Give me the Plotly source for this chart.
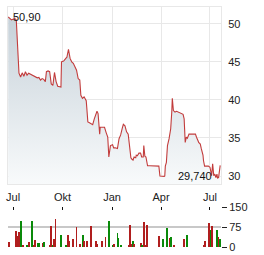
import plotly.graph_objects as go

price_dates = [
    "2023-06-22", "2023-06-28", "2023-07-04", "2023-07-07", "2023-07-12", "2023-07-15",
    "2023-07-18", "2023-07-21", "2023-07-24", "2023-07-27", "2023-07-30", "2023-08-02",
    "2023-08-05", "2023-08-09", "2023-08-12", "2023-08-15", "2023-08-18", "2023-08-21",
    "2023-08-24", "2023-08-27", "2023-08-30", "2023-09-01", "2023-09-04", "2023-09-07",
    "2023-09-10", "2023-09-13", "2023-09-16", "2023-09-19", "2023-09-22", "2023-09-25",
    "2023-09-28", "2023-09-29", "2023-10-03", "2023-10-07", "2023-10-09", "2023-10-12",
    "2023-10-15", "2023-10-18", "2023-10-21", "2023-10-24", "2023-10-27", "2023-10-30",
    "2023-11-02", "2023-11-04", "2023-11-07", "2023-11-10", "2023-11-14", "2023-11-15",
    "2023-11-17", "2023-11-20", "2023-11-23", "2023-11-26", "2023-11-29", "2023-12-03",
    "2023-12-04", "2023-12-06", "2023-12-07", "2023-12-09", "2023-12-10", "2023-12-14",
    "2023-12-18", "2023-12-21", "2023-12-24", "2023-12-26", "2023-12-29", "2024-01-02",
    "2024-01-04", "2024-01-07", "2024-01-11", "2024-01-14", "2024-01-17", "2024-01-20",
    "2024-01-22", "2024-01-25", "2024-01-28", "2024-01-31", "2024-02-03", "2024-02-05",
    "2024-02-07", "2024-02-09", "2024-02-11", "2024-02-14", "2024-02-15", "2024-02-17",
    "2024-02-20", "2024-02-23", "2024-02-25", "2024-02-28", "2024-02-29", "2024-03-02",
    "2024-03-04", "2024-03-07", "2024-03-11", "2024-03-20", "2024-03-27", "2024-03-28",
    "2024-03-30", "2024-04-02", "2024-04-07", "2024-04-08", "2024-04-09", "2024-04-11",
    "2024-04-13", "2024-04-16", "2024-04-17", "2024-04-19", "2024-04-21", "2024-04-22",
    "2024-04-24", "2024-04-27", "2024-04-30", "2024-05-03", "2024-05-06", "2024-05-09",
    "2024-05-12", "2024-05-14", "2024-05-15", "2024-05-16", "2024-05-18", "2024-05-20",
    "2024-05-23", "2024-05-26", "2024-05-29", "2024-06-01", "2024-06-04", "2024-06-06",
    "2024-06-08", "2024-06-09", "2024-06-10", "2024-06-13", "2024-06-15", "2024-06-18",
    "2024-06-19", "2024-06-21", "2024-06-25", "2024-06-28", "2024-07-01", "2024-07-03",
    "2024-07-04", "2024-07-06", "2024-07-08", "2024-07-10", "2024-07-12", "2024-07-14",
    "2024-07-15", "2024-07-17", "2024-07-20",
]
price_values = [
    50.90, 50.5, 50.7, 50.5, 43.5, 43.0,
    43.55, 43.1, 43.7, 43.25, 43.5, 43.4,
    43.25, 43.1, 43.0, 42.9, 42.95, 42.6,
    42.8, 42.7, 42.4, 43.7, 43.8, 43.7,
    42.1, 41.9, 43.6, 42.4, 41.8, 41.7,
    41.7, 45.0, 45.1, 45.45, 45.6, 46.65,
    45.45, 45.0, 44.8, 44.35, 43.9, 42.8,
    42.6, 40.6, 40.2, 40.4, 39.9, 39.0,
    37.1, 37.0, 36.9, 36.75, 37.5, 38.4,
    38.5, 38.2, 37.1, 35.5, 36.4, 36.4,
    36.4, 35.7, 35.1, 32.5, 34.0, 34.1,
    33.7, 33.7, 33.6, 34.9, 35.4, 36.3,
    36.8, 36.6, 35.8, 35.5, 33.9, 32.4,
    32.2, 32.1, 32.5, 32.4, 32.75, 32.65,
    33.0, 33.0, 32.5, 32.5, 34.0, 32.6,
    32.5, 31.35, 31.35, 31.35, 31.35, 31.3,
    30.0, 29.95, 29.95, 30.0, 31.3, 31.8,
    34.0, 34.9, 35.2, 36.2, 38.4, 40.2,
    38.6, 38.4, 38.5, 38.4, 38.2, 38.2,
    38.1, 37.5, 36.2, 34.4, 35.1, 34.95,
    35.5, 35.5, 35.5, 35.5, 35.5, 35.1,
    34.85, 34.6, 34.4, 34.2, 33.55, 32.75,
    32.0, 31.3, 31.3, 31.3, 31.15, 30.5,
    30.05, 31.6, 30.05, 30.25, 29.8, 30.25,
    29.74, 29.8, 31.4,
]

vol_dates = [
    "2023-06-24", "2023-07-06", "2023-07-08", "2023-07-10", "2023-07-12", "2023-07-14",
    "2023-07-16", "2023-07-20", "2023-07-27", "2023-07-31", "2023-08-05", "2023-08-09",
    "2023-08-11", "2023-08-16", "2023-08-18", "2023-08-25", "2023-08-27", "2023-09-07",
    "2023-09-09", "2023-09-13", "2023-09-15", "2023-09-18", "2023-09-28", "2023-10-07",
    "2023-10-11", "2023-10-14", "2023-10-21", "2023-10-27", "2023-11-02", "2023-11-08",
    "2023-11-10", "2023-11-15", "2023-11-23", "2023-12-02", "2023-12-05", "2023-12-14",
    "2023-12-20", "2023-12-27", "2024-01-02", "2024-01-04", "2024-01-11", "2024-01-13",
    "2024-01-17", "2024-02-01", "2024-02-03", "2024-02-07", "2024-02-09", "2024-02-11",
    "2024-02-24", "2024-02-26", "2024-02-29", "2024-03-04", "2024-03-06", "2024-03-28",
    "2024-04-04", "2024-04-12", "2024-04-17", "2024-04-19", "2024-04-25", "2024-05-13",
    "2024-05-19", "2024-06-20", "2024-06-22", "2024-06-29", "2024-07-03", "2024-07-05",
    "2024-07-14", "2024-07-17", "2024-07-19",
]
vol_values = [
    19, 60, 8, 41, 56, 4,
    97, 7, 4, 19, 97, 4,
    26, 15, 15, 15, 19, 7,
    79, 4, 30, 105, 45, 4,
    45, 22, 30, 75, 11, 45,
    22, 22, 79, 22, 11, 22,
    37, 97, 4, 11, 52, 34,
    4, 7, 82, 11, 22, 11,
    15, 7, 94, 4, 82, 41,
    30, 71, 34, 37, 4, 30,
    45, 7, 22, 90, 64, 79,
    64, 37, 30,
]
vol_direction = [
    "d", "d", "d", "d", "d", "d",
    "u", "d", "u", "d", "u", "d",
    "d", "u", "u", "d", "u", "d",
    "d", "u", "d", "d", "u", "u",
    "d", "d", "d", "d", "d", "u",
    "d", "d", "d", "d", "d", "d",
    "d", "u", "u", "d", "u", "u",
    "u", "d", "d", "d", "u", "d",
    "d", "u", "d", "d", "d", "d",
    "u", "u", "d", "u", "d", "d",
    "u", "d", "d", "d", "u", "d",
    "u", "d", "u",
]

month_ticks = ["2023-07-01", "2023-10-01", "2024-01-01", "2024-04-01", "2024-07-01"]
month_labels = ["Jul", "Okt", "Jan", "Apr", "Jul"]
price_ticks = [30, 35, 40, 45, 50]
vol_ticks = [0, 75, 150]

W, H = 264, 255
x_range = ["2023-06-21 14:00", "2024-07-21 12:00"]
xdom = [8 / W, 221 / W]
grid = "#e8e8e8"
txt = "#222222"
font = "Liberation Sans, Arial, sans-serif"

fig = go.Figure()
fig.add_trace(go.Scatter(
    x=price_dates, y=price_values, mode="lines",
    line=dict(color="#c23c3c", width=1.1),
    fill="tozeroy",
    fillgradient=dict(type="vertical", start=29, stop=51,
                      colorscale=[[0, "#f8fafb"], [1, "#c6d1d9"]]),
    hoverinfo="skip", showlegend=False,
))
colors = ["#b01e1e" if d == "d" else "#0a8a0a" for d in vol_direction]
fig.add_trace(go.Bar(
    x=vol_dates, y=vol_values, marker=dict(color=colors, line=dict(width=0)),
    width=86400000 * 1.5, xaxis="x2", yaxis="y2", showlegend=False, hoverinfo="skip",
))

imax = price_values.index(max(price_values))
imin = price_values.index(min(price_values))
fmt = lambda v, d: f"{v:.{d}f}".replace(".", ",")
fig.add_annotation(x=price_dates[imax], y=price_values[imax], text=fmt(price_values[imax], 2),
                   showarrow=False, xanchor="left", yanchor="middle", xshift=3,
                   font=dict(size=11, color="#111", family=font))
fig.add_annotation(x=price_dates[imin], y=price_values[imin], text=fmt(price_values[imin], 3),
                   showarrow=False, xanchor="right", yanchor="middle", xshift=-4, yshift=2,
                   font=dict(size=11, color="#111", family=font))

fig.update_layout(
    width=W, height=H, margin=dict(l=0, r=0, t=0, b=0, autoexpand=False),
    paper_bgcolor="white", plot_bgcolor="white",
    font=dict(family=font, size=11, color=txt),
    bargap=0,
    xaxis=dict(domain=xdom, range=x_range, type="date", tickvals=month_ticks, ticktext=month_labels,
               showgrid=True, gridcolor=grid, gridwidth=1, showline=True, mirror=True, linecolor=grid,
               ticks="outside", ticklen=3, tickcolor="rgba(0,0,0,0)", zeroline=False,
               tickfont=dict(size=11, color=txt), automargin=False),
    yaxis=dict(domain=[1 - 184 / H, 1 - 7 / H], range=[28.95, 52.2], side="right",
               tickvals=price_ticks, showgrid=True, gridcolor=grid, showline=True, mirror=True,
               linecolor=grid, ticks="outside", ticklen=4, tickcolor="rgba(0,0,0,0)",
               zeroline=False, tickfont=dict(size=11, color=txt), automargin=False),
    xaxis2=dict(domain=xdom, range=x_range, type="date", anchor="y2", side="top",
                tickvals=month_ticks, showticklabels=False, ticks="inside", ticklen=3,
                tickcolor="#111", tickwidth=1, showgrid=False, showline=False, zeroline=False,
                automargin=False),
    yaxis2=dict(domain=[1 - 247 / H, 1 - 207 / H], range=[0, 150], side="right", anchor="x2",
                tickvals=vol_ticks, showgrid=True, gridcolor="#c8c8c8", gridwidth=1.5,
                ticks="outside", ticklen=5, tickcolor="#222", zeroline=False, showline=False,
                tickfont=dict(size=11, color=txt), automargin=False),
)

fig.write_html("out.html")
